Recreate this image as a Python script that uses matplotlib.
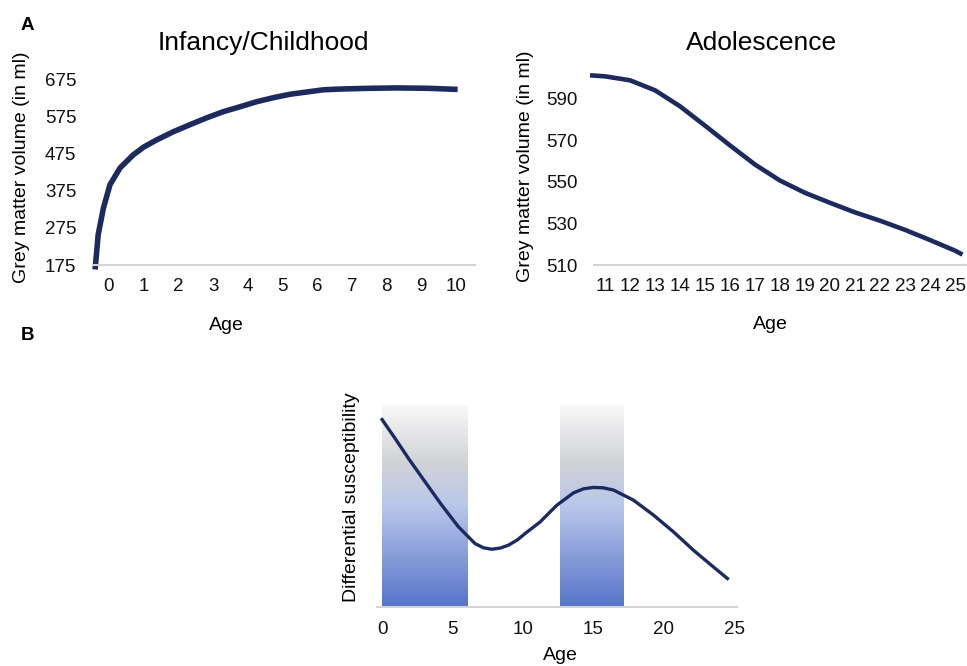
import numpy as np
import matplotlib
matplotlib.use("Agg")
import matplotlib.pyplot as plt
from matplotlib.colors import LinearSegmentedColormap

plt.rcParams['font.family'] = ['Liberation Sans', 'DejaVu Sans']

# panel A, infancy / childhood
child_age = [-0.40, -0.31, -0.16, 0.03, 0.32, 0.70, 1.0, 1.37, 1.85, 2.33, 2.8, 3.29, 3.8, 4.26, 4.75, 5.22, 5.7, 6.18, 6.66, 7.5, 8.3, 9.2, 10.05]
child_vol = [163, 257, 328, 391, 436, 471, 492, 511, 533, 552, 570, 587, 601, 614, 625, 634, 640, 646, 648, 650, 651, 650, 647]
child_yticks = [175, 275, 375, 475, 575, 675]
child_xticks = list(range(0, 11))

# panel A, adolescence
adol_age = [10.4, 11, 12, 13, 14, 15, 16, 17, 18, 19, 20, 21, 22, 23, 24, 25, 25.3]
adol_vol = [601.2, 600.7, 598.8, 594, 586.3, 577, 567.5, 558.3, 550.6, 544.7, 539.9, 535.3, 531.3, 526.9, 522, 516.9, 515]
adol_yticks = [510, 530, 550, 570, 590]
adol_xticks = list(range(11, 26))

# panel B, differential susceptibility (relative units)
sus_age = [0, 0.92, 1.87, 3.05, 4.24, 5.42, 6.6, 7.2, 7.79, 8.4, 8.97, 9.6, 10.16, 11.22, 12.41, 13.59, 14.3, 15.0, 15.7, 16.43, 17.85, 19.27, 20.69, 22.11, 23.53, 24.52]
sus_val = [0.928, 0.835, 0.736, 0.620, 0.504, 0.397, 0.314, 0.293, 0.286, 0.292, 0.306, 0.332, 0.364, 0.421, 0.504, 0.565, 0.585, 0.592, 0.590, 0.579, 0.529, 0.455, 0.372, 0.281, 0.198, 0.141]
sus_xticks = [0, 5, 10, 15, 20, 25]
band_start = [0, 12.6]
band_end = [6.1, 17.1]

navy = '#1c2a5e'
axis_grey = '#d3d3d3'
W, H = 967, 666

fig = plt.figure(figsize=(W / 100, H / 100), dpi=100)

def px_axes(l, t, r, b):
    return fig.add_axes([l / W, 1 - b / H, (r - l) / W, (b - t) / H])

def clean(ax):
    for s in ['top', 'right', 'left']:
        ax.spines[s].set_visible(False)
    ax.spines['bottom'].set_color(axis_grey)
    ax.spines['bottom'].set_linewidth(1.5)
    ax.tick_params(length=0, labelsize=13.5, colors='#111111')
    ax.tick_params(axis='x', pad=9)
    ax.tick_params(axis='y', pad=12)

def place_labels(ax, l, t, r, b, xl, yl):
    # xl / yl are the label centres in pixels
    w, h = r - l, b - t
    ax.xaxis.label.set_va('center')
    ax.xaxis.set_label_coords((xl[0] - l) / w, (b - xl[1]) / h)
    ax.yaxis.label.set_va('center')
    ax.yaxis.set_label_coords((yl[0] - l) / w, (b - yl[1]) / h)

# infancy / childhood
box1 = (93, 79, 475, 265)
ax1 = px_axes(*box1)
ax1.plot(child_age, child_vol, color=navy, lw=4, clip_on=False, solid_capstyle='butt')
ax1.set_xlim(-0.46, 10.55)
ax1.set_ylim(175, 675)
ax1.set_xticks(child_xticks)
ax1.set_yticks(child_yticks)
clean(ax1)
ax1.set_title('Infancy/Childhood', fontsize=19, x=(263 - 93) / 382,
              y=1 + (79 - 43) / 186, va='center', pad=0)
ax1.set_xlabel('Age', fontsize=14)
ax1.set_ylabel('Grey matter volume (in ml)', fontsize=14)
place_labels(ax1, *box1, (226, 325), (22, 167))

# adolescence
box2 = (594, 57, 967, 265)
ax2 = px_axes(*box2)
ax2.plot(adol_age, adol_vol, color=navy, lw=3.3, clip_on=False, solid_capstyle='butt')
ax2.set_xlim(10.56, 25.48)
ax2.set_ylim(510, 610)
ax2.set_xticks(adol_xticks)
ax2.set_yticks(adol_yticks)
clean(ax2)
ax2.set_title('Adolescence', fontsize=19, x=(762 - 594) / 373,
              y=1 + (57 - 43) / 208, va='center', pad=0)
ax2.set_xlabel('Age', fontsize=14)
ax2.set_ylabel('Grey matter volume (in ml)', fontsize=14)
place_labels(ax2, *box2, (770, 324), (526, 166))

# differential susceptibility
box3 = (377, 405, 737, 607)
ax3 = px_axes(*box3)
band_cmap = LinearSegmentedColormap.from_list(
    'band', [(0, '#5673c8'), (0.5, '#b8c6ea'), (0.72, '#d2d3d7'), (1, '#f8f8f8')])
grad = np.linspace(0, 1, 256).reshape(-1, 1)
for s, e in zip(band_start, band_end):
    ax3.imshow(grad, cmap=band_cmap, aspect='auto', origin='lower',
               extent=[s, e, 0, 1], zorder=1)
ax3.plot(sus_age, sus_val, color=navy, lw=2.4, zorder=3)
ax3.set_xlim(-0.36, 25.2)
ax3.set_ylim(0, 1)
ax3.set_xticks(sus_xticks)
ax3.set_yticks([])
clean(ax3)
ax3.tick_params(axis='x', pad=10)
ax3.set_xlabel('Age', fontsize=14)
ax3.set_ylabel('Differential susceptibility', fontsize=14)
place_labels(ax3, *box3, (560, 655), (352, 497))

fig.text(27 / W, 1 - 25 / H, 'A', fontsize=13.5, fontweight='bold', ha='center', va='center')
fig.text(27 / W, 1 - 335 / H, 'B', fontsize=13.5, fontweight='bold', ha='center', va='center')

fig.savefig('out.png', dpi=100, facecolor='white')
